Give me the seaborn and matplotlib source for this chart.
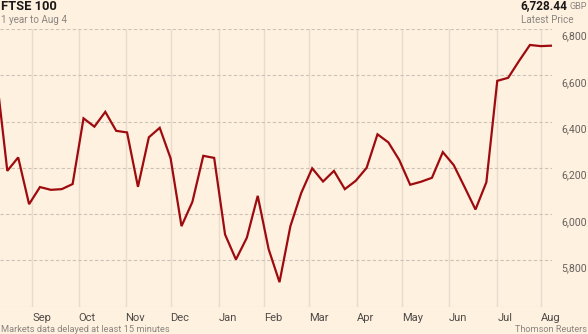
import matplotlib
matplotlib.use("Agg")
import matplotlib.pyplot as plt
import matplotlib.dates as mdates
import numpy as np
import pandas as pd
import seaborn as sns

# ---- data (weekly closes) ----
dates = pd.date_range("2015-08-14", periods=52, freq="7D")
values = [6600, 6187, 6245, 6043, 6117, 6105, 6108, 6130, 6414, 6378,
          6442, 6360, 6353, 6118, 6332, 6373, 6241, 5948, 6053, 6252,
          6243, 5912, 5804, 5898, 6079, 5849, 5706, 5948, 6092, 6198,
          6141, 6187, 6108, 6144, 6200, 6345, 6310, 6234, 6127, 6140,
          6157, 6268, 6212, 6117, 6020, 6138, 6576, 6589, 6662, 6731,
          6726, 6728]
month_labels = ["Sep", "Oct", "Nov", "Dec", "Jan", "Feb", "Mar", "Apr",
                "May", "Jun", "Jul", "Aug"]
month_ticks = pd.to_datetime(["2015-09-06", "2015-10-06", "2015-11-05",
                              "2015-12-04", "2016-01-04", "2016-02-02",
                              "2016-03-02", "2016-04-02", "2016-05-01",
                              "2016-05-31", "2016-07-01", "2016-07-29"])
y_ticks = [5800, 6000, 6200, 6400, 6600, 6800]
y_labels = ["5,800", "6,000", "6,200", "6,400", "6,600", "6,800"]
title = "FTSE 100"
subtitle = "1 year to Aug 4"
latest_price = "6,728.44"
currency = "GBP"

df = pd.DataFrame({"date": dates, "value": values})

# ---- style ----
BG = "#FFF1E0"
LINE = "#9E0B0F"
GRID_H = "#CBC3B8"
GRID_V = "#E8DCCD"
TXT = "#66605C"
FONT = ["Roboto", "DejaVu Sans"]

sns.set_theme(style="white")
plt.rcParams["font.family"] = FONT

W, H = 588, 334
fig = plt.figure(figsize=(W / 100, H / 100), dpi=100, facecolor=BG)

ax_left, ax_right, ax_top, ax_bottom = 0, 552, 29, 306.7
ax = fig.add_axes([ax_left / W, (H - ax_bottom) / H,
                   (ax_right - ax_left) / W, (ax_bottom - ax_top) / H])
ax.set_facecolor(BG)

sns.lineplot(data=df, x="date", y="value", ax=ax, color=LINE, linewidth=1.6,
             solid_joinstyle="miter")

# x limits: second point at 7.3px, last point at 551.7px
d1 = mdates.date2num(dates[1])
dn = mdates.date2num(dates[-1])
ppd = (551.7 - 7.3) / (dn - d1)
ax.set_xlim(d1 - 7.3 / ppd, dn + (552 - 551.7) / ppd)
ax.set_ylim(5600, 6800)

ax.set_xticks(month_ticks)
ax.set_xticklabels([])
ax.set_yticks([5600] + y_ticks)
ax.set_yticklabels([])
ax.tick_params(length=0)
ax.set_xlabel("")
ax.set_ylabel("")
for s in ax.spines.values():
    s.set_visible(False)

ax.xaxis.grid(True, color=GRID_V, linewidth=1.0, linestyle="-")
ax.yaxis.grid(True, color=GRID_H, linewidth=0.8, linestyle=(0, (3, 2)))
ax.set_axisbelow(True)

# y labels on the right, below each gridline (kept fully inside the figure)
for v, lab in zip(y_ticks, y_labels):
    ax.annotate(lab, xy=(1, v), xycoords=("axes fraction", "data"),
                xytext=(9.5 * 0.72, -7.7 * 0.72), textcoords="offset points",
                ha="left", va="center", fontsize=7.6, color=TXT,
                annotation_clip=False)

# month labels, left-aligned at gridlines
for d, lab in zip(month_ticks, month_labels):
    ax.annotate(lab, xy=(mdates.date2num(d), 0),
                xycoords=("data", "axes fraction"),
                xytext=(0, -11 * 0.72), textcoords="offset points",
                ha="left", va="center", fontsize=8, color="#4E4A47",
                annotation_clip=False)

def ftext(x, y, s, **kw):
    fig.text(x / W, 1 - y / H, s, **kw)

ftext(1, 6, title, ha="left", va="center", fontsize=9.3,
      fontweight="bold", color="#1A1817")
ftext(1, 20, subtitle, ha="left", va="center", fontsize=7.1, color="#8A8580")
ftext(567, 6, latest_price, ha="right", va="center", fontsize=8.5,
      fontweight="bold", color="#1A1817")
ftext(587, 6.5, currency, ha="right", va="center", fontsize=6.6,
      color="#8A8580")
ftext(521, 20, "Latest Price", ha="left", va="center", fontsize=7.1,
      color="#8A8580")
ftext(1, 329, "Markets data delayed at least 15 minutes", ha="left",
      va="center", fontsize=6.7, color="#8A8580")
ftext(587, 329, "Thomson Reuters", ha="right", va="center", fontsize=6.6,
      color="#8A8580")

fig.savefig("out.png", dpi=100, facecolor=BG)
